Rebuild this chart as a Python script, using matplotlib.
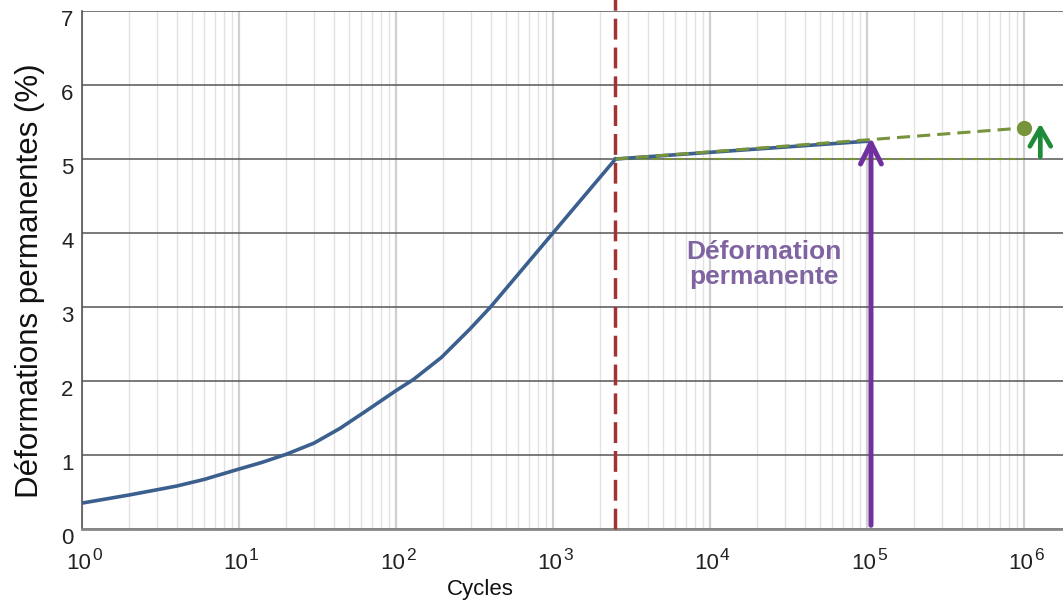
import numpy as np
import matplotlib
matplotlib.use("Agg")
import matplotlib.pyplot as plt
from matplotlib.ticker import LogLocator, FixedLocator
from matplotlib.transforms import ScaledTranslation

plt.rcParams["font.family"] = ["Liberation Sans", "DejaVu Sans"]

# first phase: rapid accumulation of permanent strain
cycles = [1, 2, 3, 4, 6, 10, 14, 20, 30, 44, 65, 100, 129, 195, 295, 400, 1000, 2500]
strain = [0.35, 0.46, 0.53, 0.58, 0.67, 0.81, 0.90, 1.01, 1.16, 1.36, 1.60, 1.87, 2.02,
          2.32, 2.70, 3.0, 4.0, 5.0]

# second phase: slow linear growth (measured up to 1e5)
stab_cycles = [2500, 1e5]
stab_strain = [5.0, 5.24]

# extrapolation up to 1e6
extrap_cycles = [2500, 1e6]
extrap_strain = [5.0, 5.42]
ref_cycles = [2500, 1e6]
ref_strain = [5.0, 5.0]

n_transition = 2500
arrow_cycle = 1.06e5
arrow_from, arrow_to = 0.05, 5.29
green_arrow_cycle = 1.27e6
green_from, green_to = 5.03, 5.48

decades = [0, 1, 2, 3, 4, 5, 6]

W, H = 1063, 601
fig = plt.figure(figsize=(W / 100, H / 100), dpi=100)
ax = fig.add_axes([82 / W, 72 / H, 981 / W, 518 / H])

ax.set_xscale("log")
ax.set_xlim(1, 10 ** (981 / 157))
ax.set_ylim(0, 7)

# grid
ax.xaxis.set_major_locator(LogLocator(base=10, numticks=10))
ax.xaxis.set_minor_locator(LogLocator(base=10, subs=np.arange(2, 10), numticks=20))
ax.yaxis.set_major_locator(FixedLocator(range(0, 8)))
ax.grid(which="minor", axis="x", color="#e2e2e2", linewidth=1.0)
ax.grid(which="major", axis="x", color="#d0d0d0", linewidth=1.6)
ax.grid(which="major", axis="y", color="#555555", linewidth=1.1)
ax.set_axisbelow(True)

for s in ["top", "right"]:
    ax.spines[s].set_visible(False)
ax.spines["left"].set_color("#555555")
ax.spines["left"].set_linewidth(1.2)
ax.spines["bottom"].set_color("#888888")
ax.spines["bottom"].set_linewidth(2.0)

ax.tick_params(axis="both", which="both", length=0, colors="#222222")
ax.tick_params(axis="x", which="both", labelbottom=False)
ax.tick_params(axis="y", labelsize=16, pad=6)
offset = ScaledTranslation(0, -7 / 100, fig.dpi_scale_trans)
for lab in ax.get_yticklabels():
    lab.set_transform(lab.get_transform() + offset)

# x tick labels: "10" with a large raised exponent
xtrans = ax.get_xaxis_transform()
for d in decades:
    base_off = ScaledTranslation(9 / 100, -40 / 100, fig.dpi_scale_trans)
    exp_off = ScaledTranslation(10 / 100, -31.5 / 100, fig.dpi_scale_trans)
    ax.text(10 ** d, 0, "10", fontsize=16, color="#222222", ha="right", va="baseline",
            transform=xtrans + base_off, clip_on=False)
    ax.text(10 ** d, 0, str(d), fontsize=12.5, color="#222222", ha="left", va="baseline",
            transform=xtrans + exp_off, clip_on=False)

fig.text(30 / W, 1 - 281 / H, "Déformations permanentes (%)", fontsize=22.5,
         rotation=90, ha="center", va="center", color="#111111")
fig.text(480 / W, 1 - 590 / H, "Cycles", fontsize=16, ha="center", va="center",
         color="#111111")

# curves
ax.plot(cycles, strain, color="#3b5f8e", linewidth=2.6, zorder=4)
ax.plot(stab_cycles, stab_strain, color="#3b5f8e", linewidth=2.6, zorder=4)
ax.plot(extrap_cycles, extrap_strain, color="#77933c", linewidth=2.2,
        dashes=(4.3, 2.3), zorder=5)
ax.plot(ref_cycles, ref_strain, color="#77933c", linewidth=1.5,
        dashes=(3.9, 2.0), zorder=3)
ax.plot([extrap_cycles[-1]], [extrap_strain[-1]], "o", color="#77933c",
        markersize=10, zorder=6)

# transition line
ax.plot([n_transition, n_transition], [0, 7.16], color="#a23333", linewidth=2.5,
        dashes=(6, 2.3), clip_on=False, zorder=5)

# arrows
ax.annotate("", xy=(arrow_cycle, arrow_to), xytext=(arrow_cycle, arrow_from),
            arrowprops=dict(arrowstyle="->,head_length=1.5,head_width=0.75",
                            color="#7030a0", linewidth=3.6, shrinkA=0, shrinkB=0),
            zorder=6)
ax.annotate("", xy=(green_arrow_cycle, green_to), xytext=(green_arrow_cycle, green_from),
            arrowprops=dict(arrowstyle="->,head_length=1.3,head_width=0.75",
                            color="#1e8a3a", linewidth=3.4, shrinkA=0, shrinkB=0),
            annotation_clip=False, zorder=6)

ax.text(10 ** 4.344, 3.57, "Déformation\npermanente", color="#8064a2", fontsize=19,
        fontweight="bold", ha="center", va="center", linespacing=1.05, zorder=7)

fig.savefig("out.png", dpi=100)
